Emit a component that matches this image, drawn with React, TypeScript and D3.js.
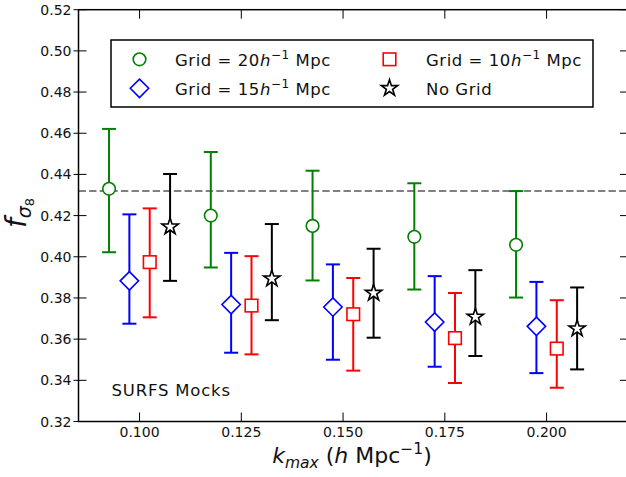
import React from "react";
import * as d3 from "d3";

const kmax = [0.1, 0.125, 0.15, 0.175, 0.2];
const yTicks = [0.32, 0.34, 0.36, 0.38, 0.4, 0.42, 0.44, 0.46, 0.48, 0.5, 0.52];
const xTicks = [0.1, 0.125, 0.15, 0.175, 0.2];

const grid20 = [0.433, 0.420, 0.415, 0.4097, 0.4058];
const grid20Lo = [0.4022, 0.3948, 0.3885, 0.3841, 0.3802];
const grid20Hi = [0.4621, 0.4509, 0.4418, 0.4357, 0.4319];

const grid15 = [0.3883, 0.3768, 0.3756, 0.3683, 0.3662];
const grid15Lo = [0.3675, 0.3534, 0.35, 0.3466, 0.3435];
const grid15Hi = [0.4206, 0.4019, 0.3963, 0.3906, 0.3878];

const grid10 = [0.3974, 0.3763, 0.3721, 0.3605, 0.3554];
const grid10Lo = [0.3706, 0.3526, 0.3447, 0.3387, 0.3364];
const grid10Hi = [0.4235, 0.4003, 0.3897, 0.3824, 0.3789];

const noGrid = [0.4146, 0.3894, 0.3824, 0.3708, 0.3651];
const noGridLo = [0.3883, 0.3692, 0.3607, 0.3518, 0.3453];
const noGridHi = [0.4402, 0.4159, 0.4039, 0.3935, 0.3851];

const refLine = 0.432;

const series = [
  { name: "g20", offset: -0.0075, color: "#008000", marker: "circle", y: grid20, lo: grid20Lo, hi: grid20Hi },
  { name: "g15", offset: -0.0025, color: "#0000ff", marker: "diamond", y: grid15, lo: grid15Lo, hi: grid15Hi },
  { name: "g10", offset: 0.0025, color: "#ff0000", marker: "square", y: grid10, lo: grid10Lo, hi: grid10Hi },
  { name: "none", offset: 0.0075, color: "#000000", marker: "star", y: noGrid, lo: noGridLo, hi: noGridHi },
];

const FONT = "DejaVu Sans, sans-serif";

function starPath(R: number) {
  const r = R * 0.381966;
  const pts: [number, number][] = [];
  for (let i = 0; i < 10; i++) {
    const a = -Math.PI / 2 + (i * Math.PI) / 5;
    const rad = i % 2 === 0 ? R : r;
    pts.push([rad * Math.cos(a), rad * Math.sin(a)]);
  }
  return d3.line()(pts) + "Z";
}

function Marker({ kind, x, y, color }: { kind: string; x: number; y: number; color: string }) {
  const common = { fill: "white", stroke: color, strokeWidth: 1.6 };
  if (kind === "circle") return <circle cx={x} cy={y} r={6.3} {...common} />;
  if (kind === "square") return <rect x={x - 6.3} y={y - 6.3} width={12.6} height={12.6} {...common} />;
  if (kind === "diamond")
    return <path d={`M${x},${y - 9.2}L${x + 9.2},${y}L${x},${y + 9.2}L${x - 9.2},${y}Z`} {...common} />;
  return <path d={starPath(8.6)} transform={`translate(${x},${y})`} {...common} />;
}

function GridLabel({ x, y, n }: { x: number; y: number; n: string }) {
  return (
    <text x={x} y={y} fontSize={16.5} letterSpacing={0.55} fill="#111">
      Grid = {n}<tspan fontStyle="italic">h</tspan>
      <tspan fontSize={12} dy={-7}>−1</tspan>
      <tspan dy={7}> Mpc</tspan>
    </text>
  );
}

export default function App() {
  const W = 626, H = 477;
  const x = d3.scaleLinear().domain([0.085, 0.22]).range([78.5, 628]);
  const y = d3.scaleLinear().domain([0.32, 0.52]).range([421.5, 9.7]);
  const x0 = x.range()[0], x1 = x.range()[1];
  const yb = y.range()[0], yt = y.range()[1];
  const fmtY = d3.format(".2f");
  const fmtX = d3.format(".3f");

  return (
    <svg width={W} height={H} style={{ position: "absolute", left: 0, top: 0, background: "white" }} fontFamily={FONT}>
      <rect x={0} y={0} width={W} height={H} fill="white" />
      {/* reference dashed line */}
      <line x1={x0} x2={x1} y1={y(refLine)} y2={y(refLine)} stroke="#808080" strokeWidth={2} strokeDasharray="7.4,3.2" />
      {/* error bars and markers */}
      {series.map((s) => (
        <g key={s.name}>
          {kmax.map((k, i) => {
            const cx = x(k + s.offset);
            return (
              <g key={i} stroke={s.color} strokeWidth={2}>
                <line x1={cx} x2={cx} y1={y(s.lo[i])} y2={y(s.hi[i])} />
                <line x1={cx - 7} x2={cx + 7} y1={y(s.lo[i])} y2={y(s.lo[i])} />
                <line x1={cx - 7} x2={cx + 7} y1={y(s.hi[i])} y2={y(s.hi[i])} />
              </g>
            );
          })}
          {kmax.map((k, i) => (
            <Marker key={"m" + i} kind={s.marker} x={x(k + s.offset)} y={y(s.y[i])} color={s.color} />
          ))}
        </g>
      ))}
      {/* ticks */}
      {yTicks.map((t) => (
        <g key={"y" + t}>
          <line x1={x0 - 5} x2={x0 + 8} y1={y(t)} y2={y(t)} stroke="black" strokeWidth={1} />
          <line x1={x1 - 8} x2={x1} y1={y(t)} y2={y(t)} stroke="black" strokeWidth={1} />
          <text x={71.5} y={y(t)} dy="0.36em" textAnchor="end" fontSize={14} fill="#111">
            {fmtY(t)}
          </text>
        </g>
      ))}
      {xTicks.map((t) => (
        <g key={"x" + t}>
          <line x1={x(t)} x2={x(t)} y1={yb} y2={yb - 9} stroke="black" strokeWidth={1} />
          <line x1={x(t)} x2={x(t)} y1={yt} y2={yt + 9} stroke="black" strokeWidth={1} />
          <text x={x(t)} y={437} textAnchor="middle" fontSize={14} fill="#111">
            {fmtX(t)}
          </text>
        </g>
      ))}
      {/* spines */}
      <rect x={x0} y={yt} width={x1 - x0} height={yb - yt} fill="none" stroke="black" strokeWidth={1.5} />
      {/* legend */}
      <rect x={111} y={40} width={482} height={67} fill="white" stroke="black" strokeWidth={1.5} />
      <Marker kind="circle" x={139.5} y={59.3} color="#008000" />
      <Marker kind="diamond" x={139.5} y={88.3} color="#0000ff" />
      <Marker kind="square" x={389.5} y={59.3} color="#ff0000" />
      <Marker kind="star" x={389.5} y={88.3} color="#000000" />
      <GridLabel x={175} y={65.5} n="20" />
      <GridLabel x={175} y={94.5} n="15" />
      <GridLabel x={426} y={65.5} n="10" />
      <text x={426} y={94.5} fontSize={16.5} letterSpacing={0.55} fill="#111">
        No Grid
      </text>
      {/* annotation */}
      <text x={111.5} y={396} fontSize={16.5} letterSpacing={0.8} fill="#111">
        SURFS Mocks
      </text>
      {/* x label */}
      <text x={352} y={463} textAnchor="middle" fontSize={22} fill="#111">
        <tspan fontStyle="italic">k</tspan>
        <tspan fontStyle="italic" fontSize={15.5} dy={5}>max</tspan>
        <tspan dy={-5}> (</tspan>
        <tspan fontStyle="italic">h</tspan>
        <tspan> Mpc</tspan>
        <tspan fontSize={15.5} dy={-9}>−1</tspan>
        <tspan dy={9}>)</tspan>
      </text>
      {/* y label */}
      <text transform="translate(26,213) rotate(-90)" textAnchor="middle" fontSize={28} fill="#111">
        <tspan fontStyle="italic">f</tspan>
        <tspan fontStyle="italic" fontSize={19} dy={5}>σ</tspan>
        <tspan fontSize={13} dy={3}>8</tspan>
      </text>
    </svg>
  );
}
